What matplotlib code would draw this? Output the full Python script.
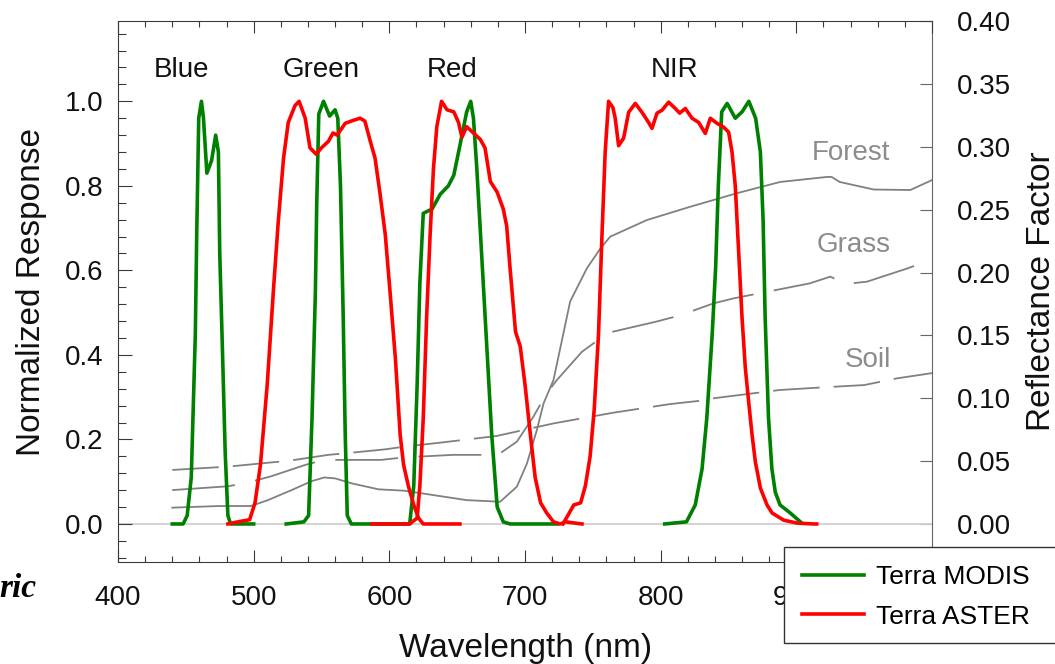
import numpy as np
import matplotlib.pyplot as plt
from matplotlib.ticker import MultipleLocator
from matplotlib.patches import Rectangle

plt.rcParams['font.family'] = ['Liberation Sans', 'DejaVu Sans']

# --- sensor relative spectral response (normalized) ---
modis_blue_wl = [440, 448, 451, 454, 457, 458, 459.5, 461.5, 463, 465.5, 469, 472, 474, 475, 477, 479, 481, 483, 500]
modis_blue_rs = [0.0, 0.0, 0.02, 0.11, 0.45, 0.68, 0.96, 1.0, 0.96, 0.83, 0.86, 0.92, 0.88, 0.64, 0.41, 0.17, 0.02, 0.0, 0.0]

modis_green_wl = [524, 537, 540.5, 543, 545.5, 546.5, 548, 551.5, 556, 560, 562, 564, 566, 567.5, 569, 572, 600]
modis_green_rs = [0.0, 0.005, 0.02, 0.25, 0.55, 0.76, 0.97, 1.0, 0.965, 0.98, 0.96, 0.80, 0.49, 0.21, 0.02, 0.0, 0.0]

modis_red_wl = [600, 615, 618, 620.5, 622.5, 625, 631.5, 637.5, 643.5, 647.5, 652, 657, 660, 662, 664.5,
                668, 672, 675.5, 679.5, 684, 689, 724]
modis_red_rs = [0.0, 0.0, 0.09, 0.33, 0.57, 0.735, 0.745, 0.78, 0.80, 0.825, 0.895, 0.975, 1.0, 0.96, 0.84,
                0.64, 0.41, 0.21, 0.04, 0.005, 0.0, 0.0]

modis_nir_wl = [803, 819, 825.5, 830.5, 834, 838, 840.5, 842.5, 845, 849, 855, 860, 865, 870, 873.5, 875.5,
                877, 879.5, 882, 884.5, 888, 895.5, 903]
modis_nir_rs = [0.0, 0.005, 0.045, 0.13, 0.25, 0.45, 0.605, 0.80, 0.975, 0.995, 0.96, 0.975, 1.0, 0.96, 0.88, 0.72,
                0.49, 0.25, 0.13, 0.075, 0.045, 0.026, 0.005]

aster_green_wl = [481, 490, 497, 501, 505, 510, 514.5, 518, 522, 525.5, 530.5, 533.5, 538, 541.5, 546, 550, 555,
                  558.5, 561.5, 567.5, 573.5, 578.5, 582, 586, 589.5, 593, 597, 600.5, 604.5, 608, 610.5, 614,
                  618, 621.5, 625, 652]
aster_green_rs = [0.0, 0.006, 0.01, 0.05, 0.14, 0.33, 0.55, 0.71, 0.865, 0.95, 0.99, 1.0, 0.96, 0.89, 0.875, 0.89,
                  0.905, 0.925, 0.92, 0.948, 0.955, 0.96, 0.953, 0.905, 0.865, 0.785, 0.685, 0.55, 0.39, 0.21,
                  0.14, 0.09, 0.045, 0.014, 0.0, 0.0]

aster_red_wl = [587, 615, 620.5, 622.5, 625, 627.5, 630, 632.5, 635, 638.5, 642.5, 647.5, 651, 653.5, 657, 662,
                667, 670.5, 674.5, 679.5, 684, 686.5, 689, 693, 696.5, 700, 704, 707.5, 711.5, 716, 721, 726,
                730, 742]
aster_red_rs = [0.0, 0.0, 0.014, 0.09, 0.25, 0.49, 0.68, 0.84, 0.94, 1.0, 0.98, 0.975, 0.95, 0.915, 0.94, 0.925,
                0.91, 0.89, 0.81, 0.785, 0.745, 0.705, 0.605, 0.455, 0.42, 0.33, 0.21, 0.11, 0.05, 0.026, 0.005,
                0.0, 0.005, 0.0]

aster_nir_wl = [728, 736, 741, 744.5, 748, 751, 754.2, 756.7, 759.1, 761.6, 764.8, 766.5, 769, 772.7, 776.4,
                781.3, 786.2, 791.1, 793.6, 797.3, 801, 805.9, 810.8, 814, 818.2, 823.1, 828, 832.9, 836.6,
                841.5, 846.4, 850.1, 852.6, 855, 857.5, 860, 862.4, 864.9, 867.4, 869.8, 873.5, 878.4, 882.1,
                890.7, 900.6, 913, 915]
aster_nir_rs = [0.0, 0.045, 0.05, 0.09, 0.16, 0.27, 0.45, 0.68, 0.88, 1.0, 0.985, 0.96, 0.895, 0.913, 0.974,
                0.995, 0.974, 0.95, 0.936, 0.972, 0.979, 0.998, 0.983, 0.972, 0.983, 0.96, 0.95, 0.924, 0.96,
                0.948, 0.939, 0.927, 0.88, 0.80, 0.643, 0.487, 0.369, 0.288, 0.21, 0.147, 0.085, 0.045, 0.026,
                0.009, 0.002, 0.0, 0.0]

# --- surface reflectance spectra ---
forest_wl = [440, 474, 498, 510.5, 528, 542.5, 552, 560, 572, 592, 611, 632.5, 657, 681.7, 694, 701.4, 708.8,
             713.7, 721, 733.3, 745.6, 755.5, 762.8, 789.8, 821.8, 856, 888, 922.6, 926, 932, 957, 984, 1000]
forest_rf = [0.013, 0.0143, 0.0143, 0.019, 0.027, 0.034, 0.037, 0.0363, 0.0324, 0.0276, 0.0265, 0.023, 0.019,
             0.0177, 0.0297, 0.048, 0.075, 0.096, 0.1145, 0.177, 0.2033, 0.219, 0.2285, 0.2417, 0.2523, 0.263,
             0.272, 0.276, 0.276, 0.272, 0.266, 0.2656, 0.2735]

grass_wl = [440, 481, 496, 513, 538, 552, 572, 594, 611, 647, 680, 694, 706, 716, 723.5, 742, 755.5, 765, 797,
            814.5, 839, 854, 878.5, 910, 925, 937, 952, 967, 982, 1000]
grass_rf = [0.027, 0.030, 0.033, 0.038, 0.047, 0.051, 0.051, 0.051, 0.053, 0.055, 0.055, 0.0655, 0.085, 0.104,
            0.1145, 0.137, 0.1476, 0.153, 0.161, 0.166, 0.1755, 0.1795, 0.1847, 0.1914, 0.1967, 0.191, 0.1927,
            0.198, 0.2033, 0.2105]

soil_wl = [440, 471, 481, 513, 524, 555, 572, 597, 611, 637.5, 679, 721, 765, 807, 829, 839, 888, 920, 950, 974, 1000]
soil_rf = [0.043, 0.045, 0.0456, 0.049, 0.050, 0.055, 0.0567, 0.0594, 0.0615, 0.0647, 0.070, 0.080, 0.0885,
           0.0954, 0.098, 0.100, 0.1066, 0.1087, 0.1105, 0.1158, 0.120]

band_names = ['Blue', 'Green', 'Red', 'NIR']
band_pos = [447, 550, 646, 810]
surface_names = ['Forest', 'Grass', 'Soil']
surface_pos = [(940, 0.2895), (942, 0.2163), (953, 0.1251)]

GREEN = '#008000'
RED = '#ff0000'
GRAY = '#808080'
SPINE = '#3a3a3a'

fig = plt.figure(figsize=(10.55, 6.64), dpi=100)
ax = fig.add_axes([0.11185, 0.15361, 0.77156, 0.81476])
ax2 = ax.twinx()

# gray reflectance curves under the colored response curves
ax.set_zorder(ax2.get_zorder() + 1)
ax.patch.set_visible(False)

lw = 1.3
ax2.plot(forest_wl, forest_rf, color=GRAY, lw=lw)
ax2.plot(grass_wl, grass_rf, color=GRAY, lw=lw, dashes=(34.8, 11.4))
ax2.plot(soil_wl, soil_rf, color=GRAY, lw=lw, dashes=(25.8, 7.8))
for name, (x, y) in zip(surface_names, surface_pos):
    ax2.text(x, y, name, color='#8c8c8c', fontsize=20, ha='center', va='baseline')

ax.axhline(0, color='#d0d0d0', lw=1.3, zorder=1)

clw = 2.6
ax.plot(modis_blue_wl, modis_blue_rs, color=GREEN, lw=clw, label='Terra MODIS')
ax.plot(modis_green_wl, modis_green_rs, color=GREEN, lw=clw)
ax.plot(modis_red_wl, modis_red_rs, color=GREEN, lw=clw)
ax.plot(modis_nir_wl, modis_nir_rs, color=GREEN, lw=clw)
ax.plot(aster_green_wl, aster_green_rs, color=RED, lw=clw, label='Terra ASTER')
ax.plot(aster_red_wl, aster_red_rs, color=RED, lw=clw)
ax.plot(aster_nir_wl, aster_nir_rs, color=RED, lw=clw)

for name, x in zip(band_names, band_pos):
    ax.text(x, 1.0567, name, fontsize=20, ha='center', va='baseline', color='#111111')

ax.set_xlim(400, 1000)
ax.set_ylim(-0.09, 1.19)
ax2.set_ylim(-0.0302, 0.40)

ax.xaxis.set_major_locator(MultipleLocator(100))
ax.xaxis.set_minor_locator(MultipleLocator(20))
# the 1000 label sits under the legend box
ax.xaxis.set_major_formatter(lambda v, p: f'{v:.0f}' if v < 950 else '')
ax.yaxis.set_major_locator(MultipleLocator(0.2))
ax.yaxis.set_minor_locator(MultipleLocator(0.04))
ax.yaxis.set_major_formatter(lambda v, p: f'{v:.1f}')
ax2.yaxis.set_major_locator(MultipleLocator(0.05))
ax2.yaxis.set_major_formatter(lambda v, p: f'{v:.2f}' if v >= 0 else '')

ax.tick_params(axis='x', which='both', direction='in', top=True, bottom=True, colors=SPINE,
               labelcolor='#111111', labelsize=20, pad=16.5, width=0.8)
ax.tick_params(axis='x', which='major', length=8.6)
ax.tick_params(axis='x', which='minor', length=4.3)
ax.tick_params(axis='y', which='both', direction='in', left=True, right=False, colors=SPINE,
               labelcolor='#111111', labelsize=20, pad=10.8, width=0.8)
ax.tick_params(axis='y', which='major', length=10)
ax.tick_params(axis='y', which='minor', length=5.5)
ax2.tick_params(axis='y', which='major', direction='in', right=True, length=8.6, width=0.8,
                colors='#666666', labelcolor='#111111', labelsize=20, pad=18)

for s in ['left', 'top', 'bottom']:
    ax.spines[s].set_color(SPINE)
    ax2.spines[s].set_visible(False)
ax.spines['right'].set_visible(False)
ax2.spines['right'].set_color('#666666')

ax.set_xlabel('Wavelength (nm)', fontsize=24, color='#111111')
ax.xaxis.set_label_coords(0.501, -0.131)
ax.set_ylabel('Normalized Response', fontsize=24, color='#111111')
ax.yaxis.set_label_coords(-0.087, 0.5)
ax2.set_ylabel('Reflectance Factor', fontsize=24, color='#111111')
ax2.yaxis.set_label_coords(1.1155, 0.5)

# legend box runs off the right edge of the figure
fig.patches.append(Rectangle((784 / 1055, (664 - 643) / 664), 0.3, 96 / 664,
                             transform=fig.transFigure, facecolor='white', edgecolor='#333333',
                             lw=1.0, zorder=4.9))
fig.legend(loc='upper left', bbox_to_anchor=(784 / 1055, (664 - 547) / 664), bbox_transform=fig.transFigure,
           frameon=False, fontsize=19, borderaxespad=0, borderpad=0.7, handlelength=2.35,
           handletextpad=0.45, labelspacing=0.57)

fig.text(36 / 1055, (664 - 597) / 664, 'ric', ha='right', va='baseline', fontsize=24,
         family='Liberation Serif', weight='bold', style='italic')

fig.savefig('out.png', dpi=100)
